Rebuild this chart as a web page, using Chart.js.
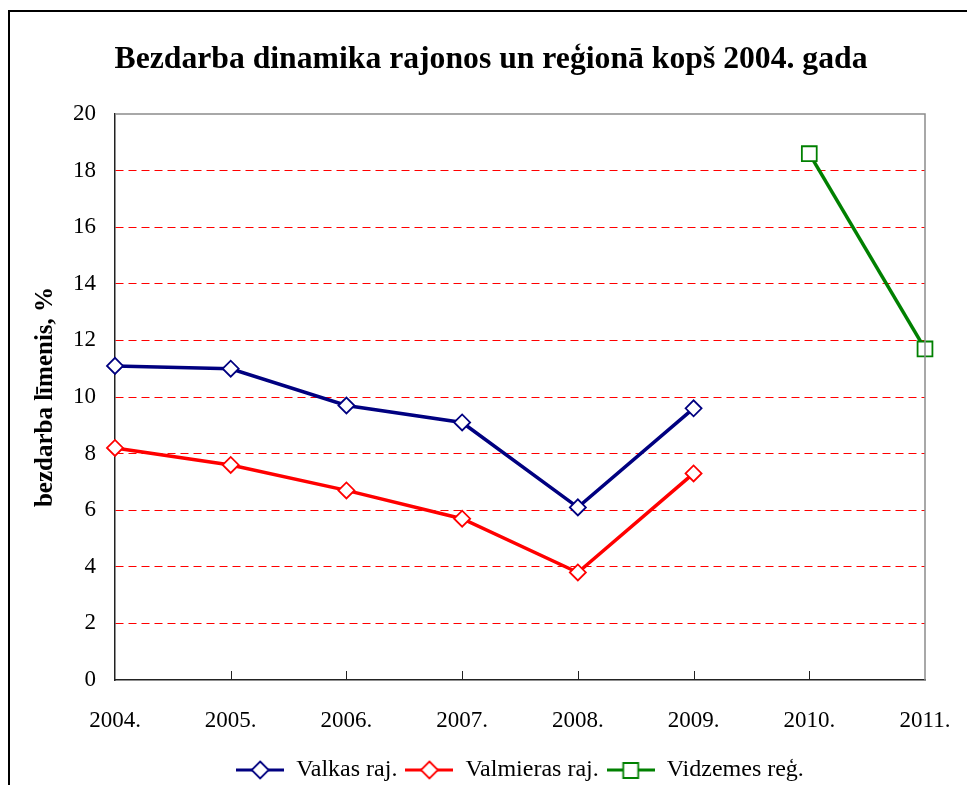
<!DOCTYPE html>
<html>
<head>
<meta charset="utf-8">
<script src="https://cdn.jsdelivr.net/npm/chart.js@4.4.1/dist/chart.umd.min.js"></script>
<style>
  html, body { margin: 0; padding: 0; overflow: hidden; background: #fff; }
  #wrap { position: absolute; left: 0; top: 0; width: 982px; height: 800px; }
</style>
</head>
<body>
<div id="wrap"><canvas id="chart" width="982" height="800"></canvas></div>
<script>
const years = ['2004.', '2005.', '2006.', '2007.', '2008.', '2009.', '2010.', '2011.']
const valkas = [11.1, 11.0, 9.7, 9.1, 6.1, 9.6, null, null]
const valmieras = [8.2, 7.6, 6.7, 5.7, 3.8, 7.3, null, null]
const vidzemes = [null, null, null, null, null, null, 18.6, 11.7]
const yTicks = { min: 0, max: 20, step: 2 }

const SERIF = "'Liberation Serif', 'Times New Roman', serif"

// little "line + marker" picture used as the legend symbol
function legendIcon(color, style) {
  const c = document.createElement('canvas')
  c.width = 48
  c.height = 20
  const ctx = c.getContext('2d')
  ctx.strokeStyle = color
  ctx.lineWidth = 3
  ctx.beginPath()
  ctx.moveTo(0, 10)
  ctx.lineTo(48, 10)
  ctx.stroke()
  ctx.fillStyle = '#fff'
  ctx.lineWidth = 1.8
  ctx.beginPath()
  if (style === 'rect') {
    ctx.rect(16.5, 3, 15, 15)
  } else {
    ctx.moveTo(24, 1.5)
    ctx.lineTo(32.5, 10)
    ctx.lineTo(24, 18.5)
    ctx.lineTo(15.5, 10)
    ctx.closePath()
  }
  ctx.fill()
  ctx.stroke()
  return c
}

const series = [
  { label: 'Valkas raj.', data: valkas, color: '#000080', style: 'rectRot', r: 8 },
  { label: 'Valmieras raj.', data: valmieras, color: '#FF0000', style: 'rectRot', r: 8 },
  { label: 'Vidzemes reģ.', data: vidzemes, color: '#008000', style: 'rect', r: 10.5 }
]

const frame = {
  id: 'frame',
  beforeDraw(chart) {
    const ctx = chart.ctx
    ctx.save()
    ctx.strokeStyle = '#000'
    ctx.lineWidth = 2
    ctx.strokeRect(9, 11, 1200, 1200)
    ctx.restore()
  },
  afterDatasetsDraw(chart) {
    const { ctx, chartArea: a, scales } = chart
    ctx.save()
    // grey top and right edges of the plot area
    ctx.strokeStyle = '#8c8c8c'
    ctx.lineWidth = 1.5
    ctx.beginPath()
    ctx.moveTo(a.left, a.top)
    ctx.lineTo(a.right, a.top)
    ctx.lineTo(a.right, a.bottom)
    ctx.stroke()
    // inward tick marks on the category axis
    ctx.strokeStyle = '#222'
    ctx.lineWidth = 1
    for (let i = 1; i < years.length - 1; i++) {
      const x = Math.round(scales.x.getPixelForTick(i)) + 0.5
      ctx.beginPath()
      ctx.moveTo(x, a.bottom)
      ctx.lineTo(x, a.bottom - 9)
      ctx.stroke()
    }
    ctx.restore()
  }
}

const ctx = document.getElementById('chart').getContext('2d')
new Chart(ctx, {
  type: 'line',
  data: {
    labels: years,
    datasets: series.map(s => ({
      label: s.label,
      data: s.data,
      borderColor: s.color,
      borderWidth: 3.5,
      backgroundColor: '#fff',
      pointStyle: s.style,
      pointRadius: s.r,
      pointHoverRadius: s.r,
      pointBorderColor: s.color,
      pointBackgroundColor: '#fff',
      pointBorderWidth: 1.8,
      tension: 0,
      fill: false,
      spanGaps: false
    }))
  },
  options: {
    responsive: false,
    animation: false,
    layout: { padding: { left: 0, right: 0, top: 0, bottom: 8 } },
    plugins: {
      tooltip: { enabled: false },
      title: {
        display: true,
        text: 'Bezdarba dinamika rajonos un reģionā kopš 2004. gada',
        color: '#000',
        font: { family: SERIF, size: 31.7, weight: 'bold' },
        padding: { top: 41, bottom: 35 }
      },
      legend: {
        position: 'bottom',
        fullSize: false,
        labels: {
          color: '#000',
          font: { family: SERIF, size: 24 },
          usePointStyle: true,
          pointStyleWidth: 48,
          padding: 8,
          generateLabels(chart) {
            return Chart.defaults.plugins.legend.labels.generateLabels(chart).map((item, i) => {
              item.pointStyle = legendIcon(series[i].color, series[i].style)
              return item
            })
          }
        }
      }
    },
    scales: {
      x: {
        offset: false,
        afterFit(scale) { scale.height = 70 },
        grid: { display: false, drawTicks: false },
        border: { display: true, color: '#222', width: 1.5 },
        ticks: { color: '#000', font: { family: SERIF, size: 23 }, padding: 27, maxRotation: 0, autoSkip: false }
      },
      y: {
        min: yTicks.min,
        max: yTicks.max,
        afterFit(scale) { scale.width = 115 },
        grid: {
          drawTicks: false,
          color: c => (c.tick && c.tick.value === yTicks.max) || c.index === 0 ? 'rgba(0,0,0,0)' : '#FF0000',
          lineWidth: 1
        },
        border: { display: true, color: '#222', width: 1.5, dash: [8, 5] },
        ticks: { stepSize: yTicks.step, color: '#000', font: { family: SERIF, size: 23 }, padding: 19 },
        title: {
          display: true,
          text: 'bezdarba līmenis, %',
          color: '#000',
          font: { family: SERIF, size: 25, weight: 'bold' },
          padding: { top: 31, bottom: 0 }
        }
      },
      // empty right-hand box, keeps a margin between the plot and the frame
      yRight: {
        position: 'right',
        afterFit(scale) { scale.width = 57 },
        grid: { display: false, drawOnChartArea: false },
        border: { display: false },
        ticks: { display: false }
      }
    }
  },
  plugins: [frame]
})
</script>
</body>
</html>
